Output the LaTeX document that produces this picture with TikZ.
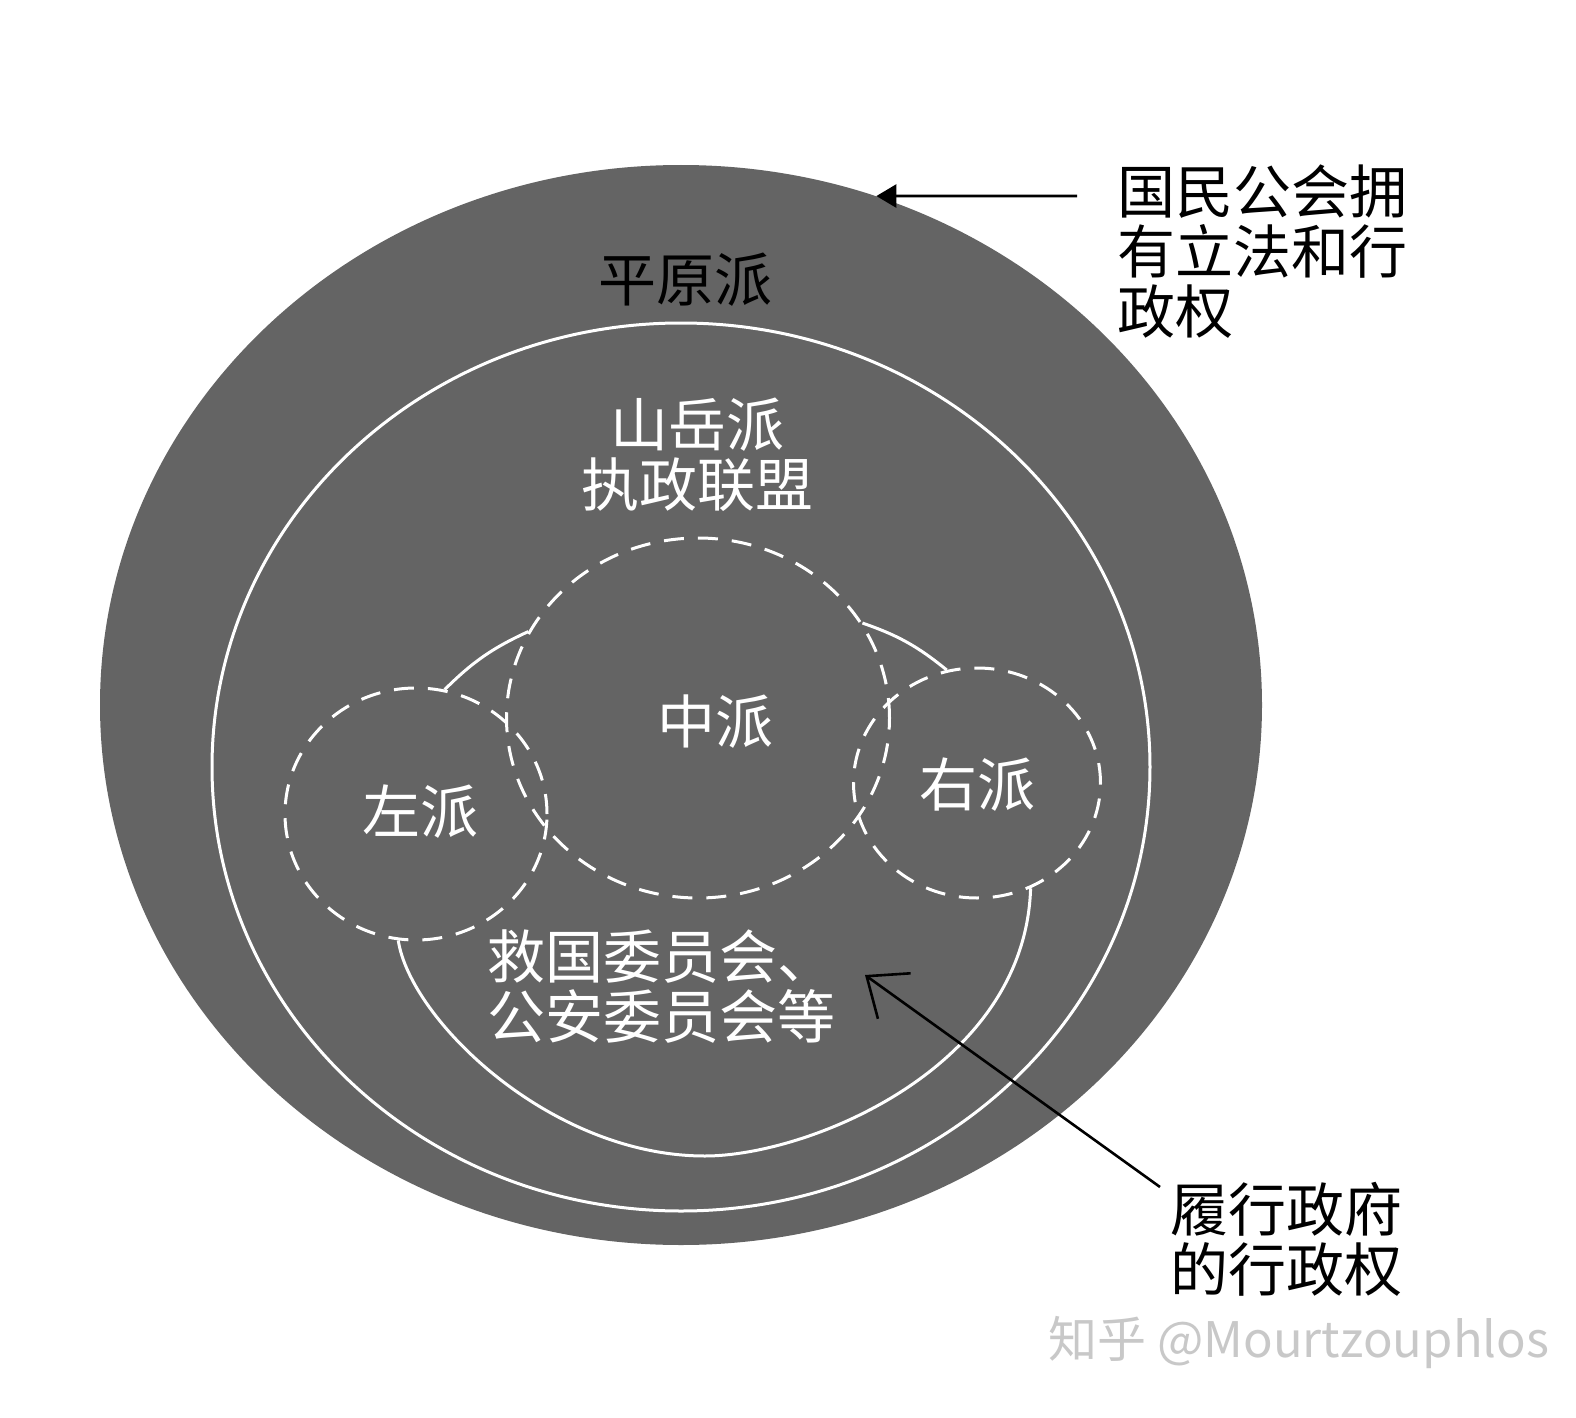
\documentclass[tikz,border=0pt]{standalone}
\usepackage{fontspec}
\newfontfamily\cjk{Noto Sans CJK SC}
\usetikzlibrary{shapes.geometric,arrows.meta}
\definecolor{bggray}{RGB}{100,100,100}
\definecolor{wmgray}{RGB}{200,200,200}
\begin{document}
\begin{tikzpicture}[x=0.5pt,y=-0.5pt,
  cjktext/.style={font=\cjk\fontsize{29}{30}\selectfont, inner sep=0pt},
  whitetext/.style={cjktext, text=white},
  blacktext/.style={cjktext, text=black},
  faction/.style={ellipse, draw=white, line width=1.5pt, dash pattern=on 10pt off 7pt, inner sep=0pt},
  link/.style={draw=white, line width=1.5pt},
  pointer/.style={draw=black, line width=1.4pt}
]
\useasboundingbox[fill=white] (0,0) rectangle (1576,1418);
% outer plain (Plaine) region
\node[ellipse, fill=bggray, minimum width=581pt, minimum height=540pt, inner sep=0pt] (outer) at (681,705) {};
% Mountain circle
\node[ellipse, draw=white, line width=1.5pt, minimum width=469pt, minimum height=444pt, inner sep=0pt] (mountain) at (681,767) {};
% factions
\node[faction, minimum width=191.5pt, minimum height=180pt] (zhongpai) at (698,718) {};
\node[faction, minimum width=131pt, minimum height=126pt] (zuopai) at (416,814) {};
\node[faction, minimum width=123.5pt, minimum height=115pt] (youpai) at (977,783) {};
% links
\draw[link] (zuopai.77) to[bend left=10] (zhongpai.153);
\draw[link] (zhongpai.30) to[bend left=10] (youpai.105);
\coordinate (ubot) at (705,1156);
\draw[link] (zuopai.-98) .. controls (410,1019) and (550,1156) .. (ubot)
  .. controls (807,1156) and (1025,1069) .. (youpai.-63);
% texts
\node[blacktext] (pingyuan) at (685,280) {平原派};
\node[whitetext, align=center] (shanyue) at (697,455) {山岳派\\执政联盟};
\node[whitetext] (zhong) at (715,722) {中派};
\node[whitetext] (zuo) at (420,812) {左派};
\node[whitetext] (you) at (977,785) {右派};
\node[whitetext, align=left, anchor=west] (committee) at (487,987) {救国委员会、\\公安委员会等};
\node[blacktext, align=left, anchor=west] (convention) at (1117,252) {国民公会拥\\有立法和行\\政权};
\node[blacktext, align=left, anchor=west] (govt) at (1170,1239) {履行政府\\的行政权};
\node[font=\cjk\fontsize{24.5}{26}\selectfont, text=wmgray, anchor=west, inner sep=0pt] (wm) at (1048,1342) {知乎 @Mourtzouphlos};
% arrows
\coordinate (a1tail) at (1077,196);
\draw[pointer, -{Triangle[length=10pt,width=11.5pt]}] (a1tail) -- (outer.69);
\coordinate (a2tail) at (1160,1187);
\coordinate (a2tip) at (865,975);
\draw[pointer, line width=1.3pt, -{Straight Barb[length=17pt,width=28pt]}] (a2tail) -- (a2tip);
\end{tikzpicture}
\end{document}
